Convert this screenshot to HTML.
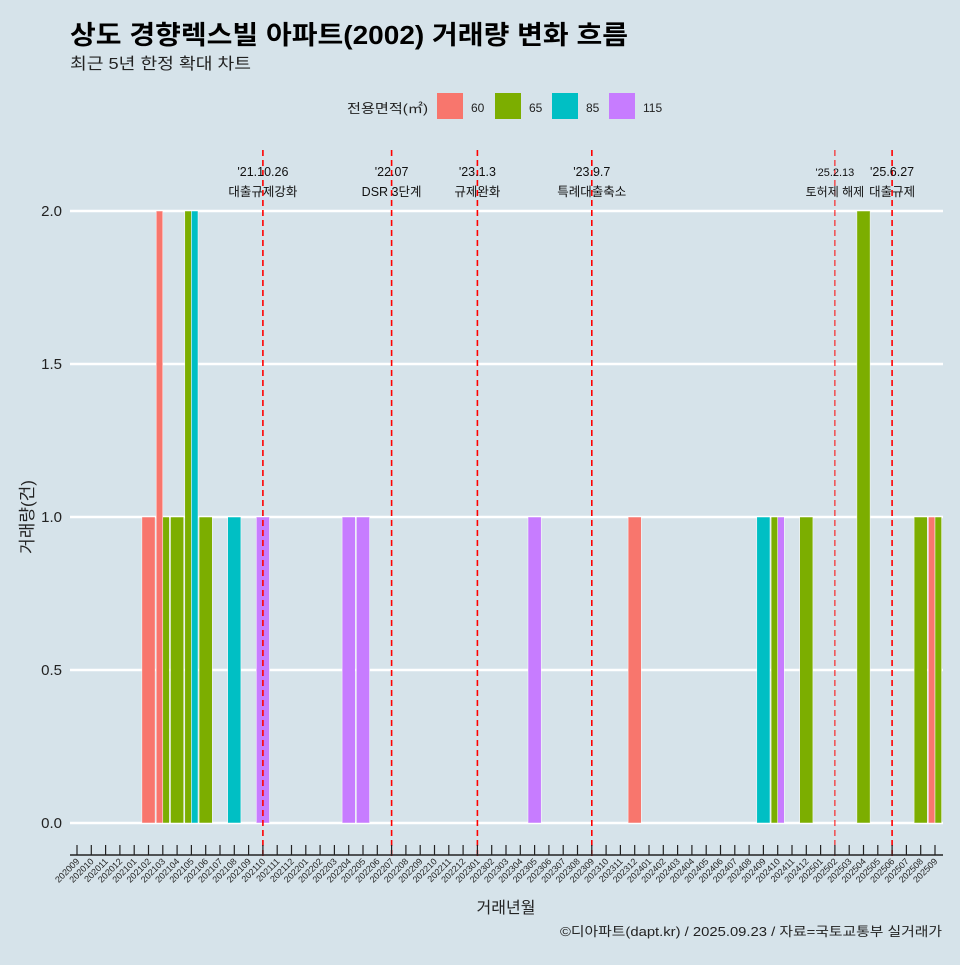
<!DOCTYPE html>
<html><head><meta charset="utf-8">
<style>
body{margin:0;background:#d6e3ea;font-family:"Liberation Sans","Noto Sans CJK KR",sans-serif;}
svg text{font-family:"Liberation Sans","Noto Sans CJK KR",sans-serif;}
</style></head>
<body>
<svg id="chart" width="960" height="960" xmlns="http://www.w3.org/2000/svg">
<rect width="960" height="960" fill="#d6e3ea"/>
<text x="70" y="44" font-size="26" font-weight="bold" fill="#000" textLength="558" lengthAdjust="spacingAndGlyphs">상도 경향렉스빌 아파트(2002) 거래량 변화 흐름</text>
<text x="70" y="69" font-size="16" fill="#222" textLength="181" lengthAdjust="spacingAndGlyphs">최근 5년 한정 확대 차트</text>
<g id="legend"></g>
<g id="grid"></g>
<g id="bars"></g>
<g id="events"></g>
<g id="xaxis"></g>
<text transform="translate(33,517) rotate(-90)" text-anchor="middle" font-size="17" fill="#222">거래량(건)</text>
<text x="506" y="913" text-anchor="middle" font-size="16" fill="#222">거래년월</text>
<text x="942" y="936" text-anchor="end" font-size="13" fill="#222" textLength="382" lengthAdjust="spacingAndGlyphs">©디아파트(dapt.kr) / 2025.09.23 / 자료=국토교통부 실거래가</text>
</svg>
<script>
const NS="http://www.w3.org/2000/svg";
const months=[];
for(let y=2020,m=9;!(y===2025&&m===10);){months.push(""+y+(m<10?"0":"")+m);m++;if(m>12){m=1;y++;}}
const areaTypes=["60","65","85","115"];
const areaColors=["#f8766d","#7cae00","#00bfc4","#c77cff"];
const tradeMonths=["202102","202103","202103","202104","202105","202105","202106","202108","202110","202204","202205","202305","202312","202409","202410","202410","202412","202504","202508","202509","202509"];
const tradeAreas=["60","60","65","65","65","85","65","85","115","115","115","115","60","85","65","115","65","65","65","60","65"];
const tradeCounts=[1,2,1,1,2,2,1,1,1,1,1,1,1,1,1,1,1,2,1,1,1];
const yTicks=[0,0.5,1,1.5,2];
const yTickLabels=["0.0","0.5","1.0","1.5","2.0"];
const eventMonths=["202110","202207","202301","202309","202502","202506"];
const eventDates=["'21.10.26","'22.07","'23.1.3","'23.9.7","'25.2.13","'25.6.27"];
const eventNames=["대출규제강화","DSR 3단계","규제완화","특례대출축소","토허제 해제","대출규제"];

const X0=77,DX=(935-77)/60,Y0=823,YS=306,PL=70,PR=943,BW=13.2;
const xs=m=>X0+months.indexOf(m)*DX;
const ys=v=>Y0-v*YS;
function el(tag,attrs,parent){const e=document.createElementNS(NS,tag);for(const k in attrs)e.setAttribute(k,attrs[k]);parent.appendChild(e);return e;}

const grid=document.getElementById("grid");
yTicks.forEach((v,i)=>{
  const l=el("line",{x1:PL,x2:PR,y1:ys(v),y2:ys(v),stroke:"#fff","stroke-width":2.5},grid);
  
  
  const t=el("text",{x:62,y:ys(v)+5,"text-anchor":"end","font-size":15,fill:"#222"},grid);
  t.textContent=yTickLabels[i];
  
  
});

const bars=document.getElementById("bars");
const groups={};
tradeMonths.forEach((m,i)=>{(groups[m]=groups[m]||[]).push(i);});
for(const m in groups){
  const idx=groups[m].sort((a,b)=>areaTypes.indexOf(tradeAreas[a])-areaTypes.indexOf(tradeAreas[b]));
  const w=BW/idx.length;
  idx.forEach((i,k)=>{
    const x=xs(m)-BW/2+k*w;
    const r=el("rect",{x:x,y:ys(tradeCounts[i]),width:w,height:tradeCounts[i]*YS,fill:areaColors[areaTypes.indexOf(tradeAreas[i])],stroke:"#fff","stroke-width":0.5},bars);
    
    
  });
}

const ev=document.getElementById("events");
eventMonths.forEach((m,i)=>{
  const x=xs(m);
  const l=el("line",{x1:x,x2:x,y1:150,y2:860,stroke:"#ff0000","stroke-width":m==="202502"?1:1.6,"stroke-dasharray":"6,4"},ev);
  
  
  const small=m==="202502";
  const t1=el("text",{x:x,y:176,"text-anchor":"middle","font-size":small?11:12.5,fill:"#111"},ev);
  t1.textContent=eventDates[i];
  
  
  const t2=el("text",{x:x,y:196,"text-anchor":"middle","font-size":small?12:12.5,fill:"#111"},ev);
  t2.textContent=eventNames[i];
  
  
});

const xa=document.getElementById("xaxis");
const ax=el("line",{x1:PL,x2:PR,y1:855,y2:855,stroke:"#222","stroke-width":1.5},xa);


months.forEach(m=>{
  const x=xs(m);
  const tk=el("line",{x1:x,x2:x,y1:845,y2:855,stroke:"#222","stroke-width":1.2},xa);
  
  
  const t=el("text",{x:x+3,y:862,"text-anchor":"end","font-size":9,fill:"#222",transform:`rotate(-45 ${x+3} 862)`},xa);
  t.textContent=m;
  
  
});

const lg=document.getElementById("legend");
const lt=el("text",{x:428,y:113,"text-anchor":"end","font-size":13,fill:"#222",textLength:81,lengthAdjust:"spacingAndGlyphs"},lg);
lt.textContent="전용면적(㎡)";


const lx=[437,495,552,609];
areaTypes.forEach((a,i)=>{
  const r=el("rect",{x:lx[i],y:93,width:26,height:26,fill:areaColors[i]},lg);
  
  
  const t=el("text",{x:lx[i]+34,y:112,"font-size":12,fill:"#222"},lg);
  t.textContent=a;
  
  
});
</script>
</body></html>
